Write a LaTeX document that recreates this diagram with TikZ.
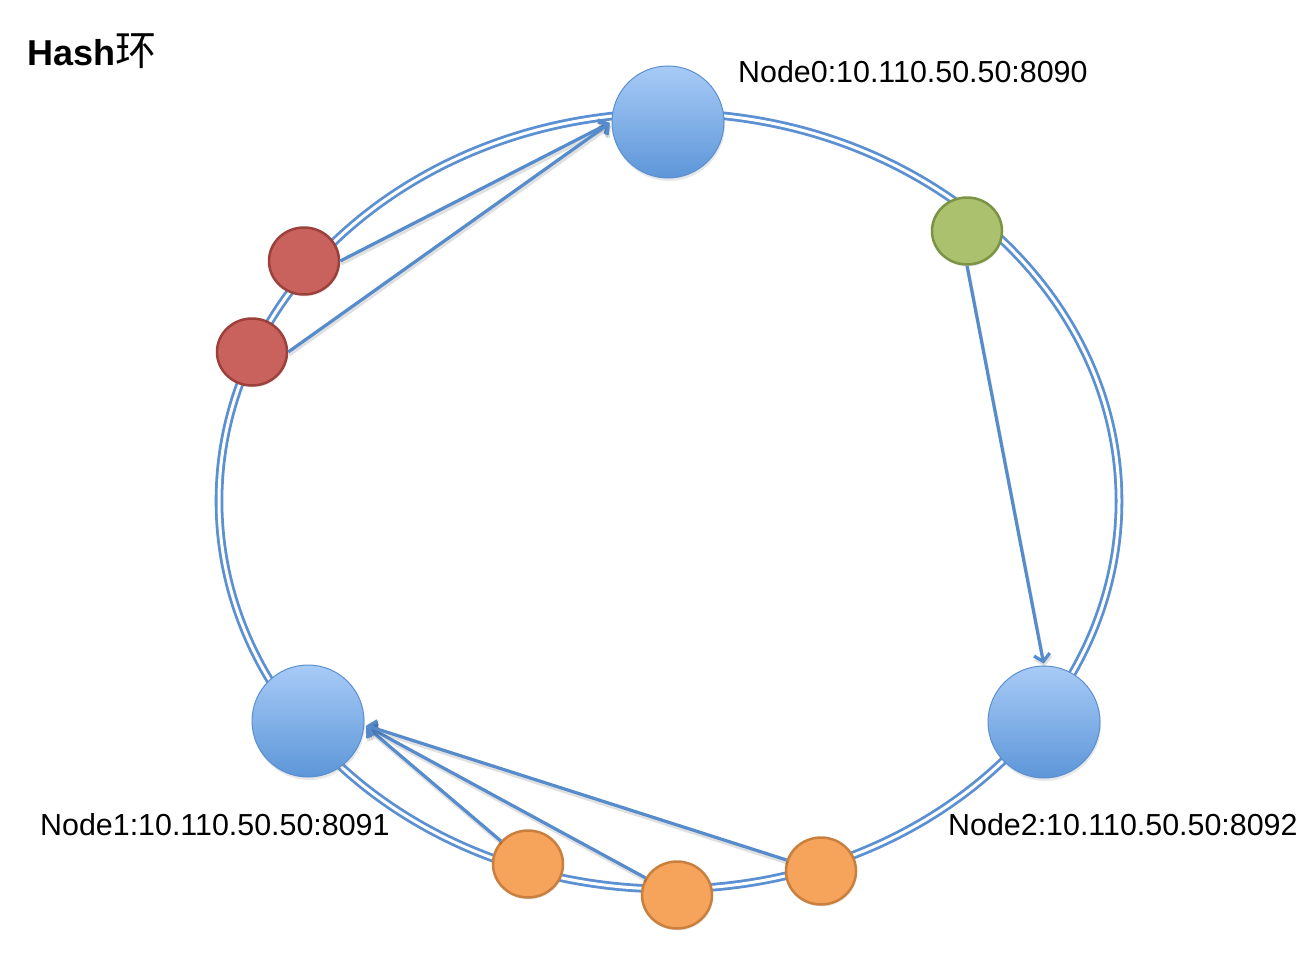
\documentclass[tikz,border=0pt]{standalone}
\usepackage{fontspec}
\setmainfont{Liberation Sans}
\newfontfamily\cjk{Noto Sans CJK SC}
\usetikzlibrary{arrows.meta,shadows,shapes.geometric}
\definecolor{ringblue}{HTML}{5B90D2}
\definecolor{arrowblue}{HTML}{568BCC}
\definecolor{bigtop}{HTML}{A8CBF7}
\definecolor{bigbot}{HTML}{5D96D8}
\definecolor{bigline}{HTML}{5A8FD0}
\definecolor{redfill}{HTML}{C9625C}
\definecolor{redline}{HTML}{9C403B}
\definecolor{greenfill}{HTML}{ABC16D}
\definecolor{greenline}{HTML}{7A9444}
\definecolor{orangefill}{HTML}{F6A35B}
\definecolor{orangeline}{HTML}{C9803E}
\tikzset{
  ring/.style={draw=ringblue, line width=2.8pt, double=white, double distance=3pt},
  bignode/.style={circle, minimum size=112pt, inner sep=0pt, draw=bigline, line width=1pt,
    top color=bigtop, bottom color=bigbot,
    drop shadow={opacity=0.18, shadow xshift=1pt, shadow yshift=-3pt}},
  small/.style={ellipse, minimum width=70pt, minimum height=67pt, inner sep=0pt, line width=2.5pt,
    drop shadow={opacity=0.15, shadow xshift=1pt, shadow yshift=-2pt}},
  rednode/.style={small, draw=redline, fill=redfill},
  greennode/.style={small, draw=greenline, fill=greenfill},
  orangenode/.style={small, draw=orangeline, fill=orangefill},
  link/.style={draw=arrowblue, line width=3.2pt, shorten >=2pt,
    -{Straight Barb[length=7pt, width=16pt]},
    preaction={draw=black, draw opacity=0.12, line width=3.2pt, transform canvas={shift={(1pt,-3pt)}}}},
  lbl/.style={anchor=base west, inner sep=0pt, font=\fontsize{30.4}{34}\selectfont}
}
\begin{document}
\begin{tikzpicture}[x=1pt, y=-1pt]
\useasboundingbox (0,0) rectangle (1316,974);
\fill[white] (0,0) rectangle (1316,974);

\node[anchor=base west, inner sep=0pt] (title) at (27,65)
  {\fontsize{36}{40}\selectfont\bfseries Hash{\cjk\mdseries\fontsize{41}{44}\selectfont 环}};

\path[ring] (669,501) ellipse [x radius=450pt, y radius=388pt];

\node[bignode] (n0) at (668,122) {};
\node[bignode] (n1) at (308,721) {};
\node[bignode] (n2) at (1044,722) {};

\node[rednode] (r1) at (304,261) {};
\node[rednode] (r2) at (252,352) {};
\node[greennode] (g) at (967,231) {};
\node[orangenode] (o1) at (528,864) {};
\node[orangenode] (o2) at (677,895) {};
\node[orangenode] (o3) at (821,871) {};

\draw[link] (r1.east) -- (n0.west);
\draw[link] (r2.east) -- (n0.west);
\draw[link] (g.south) -- (n2.north);
\draw[link] (o1) -- (n1.-4);
\draw[link] (o2) -- (n1.-4);
\draw[link] (o3) -- (n1.-4);

\node[lbl] (l0) at (738,82) {Node0:10.110.50.50:8090};
\node[lbl] (l1) at (40,835) {Node1:10.110.50.50:8091};
\node[lbl] (l2) at (948,835) {Node2:10.110.50.50:8092};
\end{tikzpicture}
\end{document}
